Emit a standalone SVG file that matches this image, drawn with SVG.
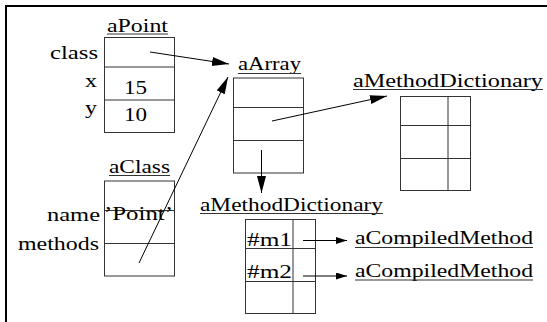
<svg xmlns="http://www.w3.org/2000/svg" xmlns:xlink="http://www.w3.org/1999/xlink" width="547" height="322" viewBox="0 0 547 322">
  <style>
    text { font-family: "Liberation Serif", "Times New Roman", serif; font-size: 19px; fill: #000; }
    .box { fill: none; stroke: #333; stroke-width: 1; }
    .ul { stroke: #333; stroke-width: 1; }
    .conn { stroke: #000; stroke-width: 1; fill: none; }
    .frame { stroke: #000; stroke-width: 2; fill: none; }
  </style>
  <defs>
    <!-- object with three slots -->
    <g id="slots3">
      <rect class="box" x="0" y="0" width="70" height="95"/>
      <line class="box" x1="0" y1="29.5" x2="70" y2="29.5"/>
      <line class="box" x1="0" y1="62.5" x2="70" y2="62.5"/>
    </g>
    <!-- dictionary: three rows of key/value pairs -->
    <g id="dict">
      <rect class="box" x="0" y="0" width="70" height="94"/>
      <line class="box" x1="47.5" y1="0" x2="47.5" y2="94"/>
      <line class="box" x1="0" y1="29" x2="70" y2="29"/>
      <line class="box" x1="0" y1="62" x2="70" y2="62"/>
    </g>
    <marker id="head" markerUnits="userSpaceOnUse" markerWidth="18" markerHeight="10" refX="17" refY="4.5" orient="auto">
      <path d="M0,0 L17,4.5 L0,9 Z" fill="#000"/>
    </marker>
    <marker id="headSmall" markerUnits="userSpaceOnUse" markerWidth="12" markerHeight="8" refX="11" refY="3.5" orient="auto">
      <path d="M0,0 L11,3.5 L0,7 Z" fill="#000"/>
    </marker>
  </defs>

  <!-- frame -->
  <path class="frame" d="M6,322 V6 H547"/>

  <g id="aPoint">
    <text x="107" y="32" textLength="61" lengthAdjust="spacingAndGlyphs">aPoint</text>
    <line class="ul" x1="107" y1="34" x2="168" y2="34"/>
    <use xlink:href="#slots3" x="104.5" y="37.5"/>
    <text x="50" y="59" textLength="48" lengthAdjust="spacingAndGlyphs">class</text>
    <text x="85" y="87" textLength="12" lengthAdjust="spacingAndGlyphs">x</text>
    <text x="85" y="114" textLength="12" lengthAdjust="spacingAndGlyphs">y</text>
    <text x="124" y="93.5" textLength="23" lengthAdjust="spacingAndGlyphs">15</text>
    <text x="124" y="121" textLength="23" lengthAdjust="spacingAndGlyphs">10</text>
  </g>

  <g id="aArray">
    <text x="238" y="70" textLength="63" lengthAdjust="spacingAndGlyphs">aArray</text>
    <line class="ul" x1="238" y1="73.5" x2="301" y2="73.5"/>
    <use xlink:href="#slots3" x="233.5" y="78"/>
  </g>

  <g id="aClass">
    <text x="109" y="173" textLength="61" lengthAdjust="spacingAndGlyphs">aClass</text>
    <line class="ul" x1="109" y1="175.5" x2="170" y2="175.5"/>
    <use xlink:href="#slots3" x="104.5" y="181"/>
    <text x="47" y="221" textLength="53" lengthAdjust="spacingAndGlyphs">name</text>
    <text x="18" y="250" textLength="81" lengthAdjust="spacingAndGlyphs">methods</text>
    <text x="104" y="220" textLength="69" lengthAdjust="spacingAndGlyphs">’Point’</text>
  </g>

  <g id="aMethodDictionary1">
    <text x="353" y="87" textLength="190" lengthAdjust="spacingAndGlyphs">aMethodDictionary</text>
    <line class="ul" x1="353" y1="89.5" x2="543" y2="89.5"/>
    <use xlink:href="#dict" x="400.5" y="96.5"/>
  </g>

  <g id="aMethodDictionary2">
    <text x="200" y="211" textLength="183" lengthAdjust="spacingAndGlyphs">aMethodDictionary</text>
    <line class="ul" x1="200" y1="213.5" x2="383" y2="213.5"/>
    <use xlink:href="#dict" x="245.5" y="219.5"/>
    <text x="247" y="245.5" textLength="45" lengthAdjust="spacingAndGlyphs">#m1</text>
    <text x="247" y="278" textLength="45" lengthAdjust="spacingAndGlyphs">#m2</text>
  </g>

  <g id="aCompiledMethod1">
    <text x="355" y="244" textLength="178" lengthAdjust="spacingAndGlyphs">aCompiledMethod</text>
    <line class="ul" x1="355" y1="247.5" x2="533" y2="247.5"/>
  </g>

  <g id="aCompiledMethod2">
    <text x="355" y="277" textLength="178" lengthAdjust="spacingAndGlyphs">aCompiledMethod</text>
    <line class="ul" x1="355" y1="280" x2="533" y2="280"/>
  </g>

  <g id="connectors">
    <line class="conn" x1="150" y1="52" x2="229" y2="64" marker-end="url(#head)"/>
    <line class="conn" x1="139" y1="263" x2="228" y2="77" marker-end="url(#head)"/>
    <line class="conn" x1="272" y1="121" x2="387" y2="96" marker-end="url(#head)"/>
    <line class="conn" x1="261.5" y1="150" x2="261.5" y2="193" marker-end="url(#head)"/>
    <line class="conn" x1="303" y1="240.5" x2="347" y2="240.5" marker-end="url(#headSmall)"/>
    <line class="conn" x1="303" y1="276" x2="347" y2="276" marker-end="url(#headSmall)"/>
  </g>
</svg>
